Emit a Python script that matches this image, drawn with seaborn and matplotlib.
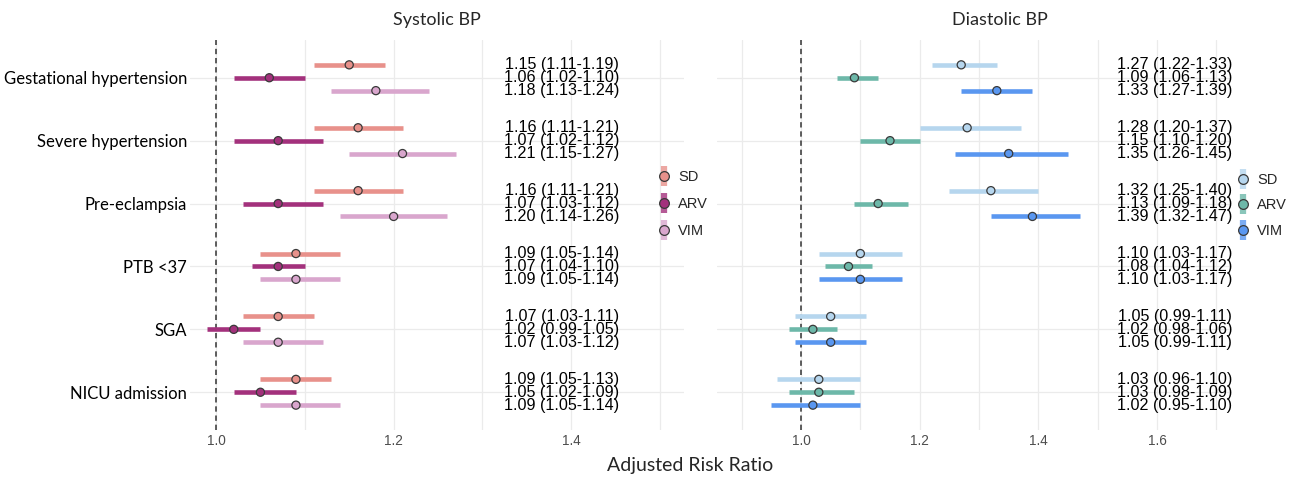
import numpy as np
import pandas as pd
import seaborn as sns
import matplotlib.pyplot as plt
import matplotlib.transforms as mtransforms
from matplotlib.lines import Line2D
from matplotlib.legend_handler import HandlerTuple

# outcomes, top to bottom
outcomes = ['Gestational hypertension', 'Severe hypertension', 'Pre-eclampsia',
            'PTB <37', 'SGA', 'NICU admission']
measures = ['SD', 'ARV', 'VIM']

# Systolic BP: estimate, lower, upper (rows = outcomes, cols = SD, ARV, VIM)
sys_est = [[1.15, 1.06, 1.18], [1.16, 1.07, 1.21], [1.16, 1.07, 1.20],
           [1.09, 1.07, 1.09], [1.07, 1.02, 1.07], [1.09, 1.05, 1.09]]
sys_lo = [[1.11, 1.02, 1.13], [1.11, 1.02, 1.15], [1.11, 1.03, 1.14],
          [1.05, 1.04, 1.05], [1.03, 0.99, 1.03], [1.05, 1.02, 1.05]]
sys_hi = [[1.19, 1.10, 1.24], [1.21, 1.12, 1.27], [1.21, 1.12, 1.26],
          [1.14, 1.10, 1.14], [1.11, 1.05, 1.12], [1.13, 1.09, 1.14]]

# Diastolic BP
dia_est = [[1.27, 1.09, 1.33], [1.28, 1.15, 1.35], [1.32, 1.13, 1.39],
           [1.10, 1.08, 1.10], [1.05, 1.02, 1.05], [1.03, 1.03, 1.02]]
dia_lo = [[1.22, 1.06, 1.27], [1.20, 1.10, 1.26], [1.25, 1.09, 1.32],
          [1.03, 1.04, 1.03], [0.99, 0.98, 0.99], [0.96, 0.98, 0.95]]
dia_hi = [[1.33, 1.13, 1.39], [1.37, 1.20, 1.45], [1.40, 1.18, 1.47],
          [1.17, 1.12, 1.17], [1.11, 1.06, 1.11], [1.10, 1.09, 1.10]]

sys_colors = ['#E8918B', '#A3317C', '#D9A6CD']
dia_colors = ['#B6D6EE', '#6DB8A9', '#5A97F0']

dodge = [-0.205, 0.0, 0.205]


def make_df(est, lo, hi):
    rows = []
    for i, out in enumerate(outcomes):
        for j, m in enumerate(measures):
            rows.append(dict(outcome=out, measure=m, est=est[i][j], lo=lo[i][j],
                             hi=hi[i][j], ypos=i + dodge[j], row=f'{i}-{j}'))
    return pd.DataFrame(rows)


def draw_panel(ax, df, colors, xlim, ticks, text_x, show_y):
    pal = dict(zip(measures, colors))
    # confidence intervals as lines (two points per row)
    long = pd.melt(df, id_vars=['measure', 'ypos', 'row'], value_vars=['lo', 'hi'])
    sns.lineplot(data=long, x='value', y='ypos', hue='measure', units='row',
                 estimator=None, palette=pal, lw=3.3, legend=False, ax=ax,
                 solid_capstyle='butt', zorder=3)
    sns.scatterplot(data=df, x='est', y='ypos', hue='measure', palette=pal,
                    s=34, edgecolor='#3a3a3a', linewidth=0.9, legend=False,
                    ax=ax, zorder=4)
    ax.axvline(1.0, color='#333333', ls=(0, (3.5, 2.5)), lw=1.1, zorder=2)

    # estimate text
    trans = mtransforms.blended_transform_factory(ax.transAxes, ax.transData)
    for _, r in df.iterrows():
        ax.text(text_x, r['ypos'], f"{r['est']:.2f} ({r['lo']:.2f}-{r['hi']:.2f})",
                transform=trans, ha='center', va='center', fontsize=11.6,
                family='Liberation Sans', color='black', zorder=5)

    ax.set_xticks(ticks)
    ax.set_xticklabels([f'{t:.1f}' for t in ticks], family='Liberation Sans',
                       fontsize=9.8, color='#4d4d4d')
    ax.set_xticks(np.arange(0.9, 1.75, 0.1), minor=True)
    ax.set_yticks(range(len(outcomes)))
    if show_y:
        ax.set_yticklabels(outcomes, fontsize=12, family='Lato', color='black')
    else:
        ax.set_yticklabels([])
    ax.set_xlim(*xlim)
    ax.set_ylim(len(outcomes) - 0.4, -0.6)
    ax.tick_params(axis='both', length=0, pad=3)
    ax.tick_params(axis='y', pad=2)
    ax.grid(True, which='both', color='#ebebeb', lw=0.9)
    ax.set_axisbelow(True)
    for s in ax.spines.values():
        s.set_visible(False)
    ax.set_xlabel('')
    ax.set_ylabel('')

    # legend keys in pointrange style: bar behind the point
    handles = []
    for c in colors:
        bar = Line2D([], [], color=c, marker='|', markersize=15, markeredgewidth=4.5,
                     linestyle='none', alpha=0.8)
        pt = Line2D([], [], color=c, marker='o', markersize=7, markeredgecolor='#3a3a3a',
                    markeredgewidth=0.9, linestyle='none')
        handles.append((bar, pt))
    return handles


sns.set_theme(style='whitegrid')
fig = plt.figure(figsize=(12.93, 4.78), dpi=100)
W, H = 1293, 478
ax1 = fig.add_axes([190 / W, 1 - 430 / H, (684 - 190) / W, 390 / H])
ax2 = fig.add_axes([717 / W, 1 - 430 / H, (1230 - 717) / W, 390 / H])

h1 = draw_panel(ax1, make_df(sys_est, sys_lo, sys_hi), sys_colors,
                (0.9707, 1.527), [1.0, 1.2, 1.4], 0.753, True)
h2 = draw_panel(ax2, make_df(dia_est, dia_lo, dia_hi), dia_colors,
                (0.8584, 1.723), [1.0, 1.2, 1.4, 1.6], 0.892, False)

for h, (lx, ly), sp in [(h1, (657, 170), 0.9), (h2, (1236, 173), 0.78)]:
    fig.legend(h, measures, handler_map={tuple: HandlerTuple(ndivide=1)},
               loc='upper left', bbox_to_anchor=(lx / W, 1 - ly / H),
               frameon=False, prop={'family': 'Liberation Sans', 'size': 10.5},
               handlelength=1.0, handletextpad=0.45, labelspacing=sp,
               borderaxespad=0, borderpad=0)

fig.text(437 / W, 1 - 20 / H, 'Systolic BP', ha='center', va='center',
         fontsize=13, family='Lato')
fig.text(1000 / W, 1 - 20 / H, 'Diastolic BP', ha='center', va='center',
         fontsize=13, family='Lato')
fig.text(690 / W, 1 - 466 / H, 'Adjusted Risk Ratio', ha='center', va='center',
         fontsize=14, family='Lato')

fig.savefig('out.png', dpi=100)
